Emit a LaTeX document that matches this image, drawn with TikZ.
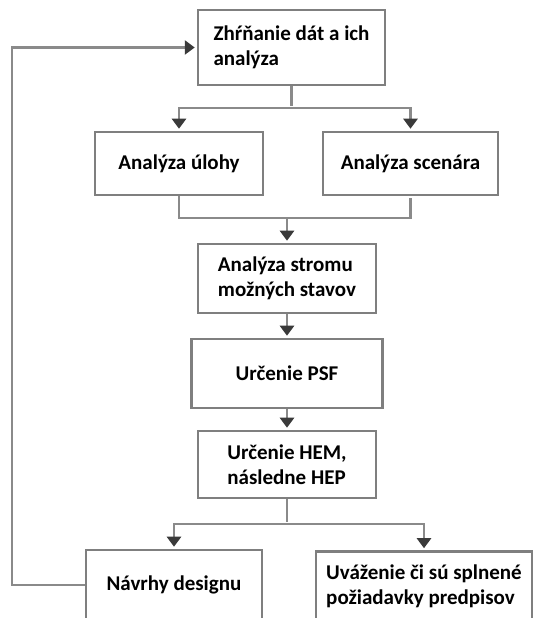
\documentclass[tikz,border=0pt]{standalone}
\usepackage{fontspec}
\setmainfont{Carlito}
\usetikzlibrary{positioning,arrows.meta,calc}
\definecolor{boxGray}{HTML}{7F7F7F}
\definecolor{lineGray}{HTML}{8A8A8A}
\definecolor{tipGray}{HTML}{3A3A3A}
\begin{document}
\begin{tikzpicture}[x=1pt, y=1pt,
                    every node/.style={on grid},
                    stage/.style={draw=boxGray, line width=2.5pt, rectangle, fill=white, inner sep=0pt,
                                  align=left, font=\bfseries\fontsize{21}{24.5}\selectfont},
                    link/.style={draw=lineGray, line width=2.5pt},
                    >={Triangle[width=14pt,length=10pt,color=tipGray]},
                    shorten >=2pt]
    \useasboundingbox (0,0) rectangle (534,618);
    \clip (0,0) rectangle (534,618);
    \node[stage, minimum width=187pt, minimum height=75pt] (zhr) at (291.5,570.5) {Zhŕňanie dát a ich\\analýza};
    \node[stage, minimum width=168pt, minimum height=63pt, below left=116pt and 112.5pt of zhr] (uloha) {Analýza úlohy};
    \node[stage, minimum width=175pt, minimum height=63pt, below right=116pt and 119pt of zhr] (scen) {Analýza scenára};
    \node[stage, minimum width=178pt, minimum height=69pt, below=231pt of zhr, xshift=-4.5pt] (strom) {Analýza stromu\\možných stavov};
    \node[stage, minimum width=191pt, minimum height=69pt, below=95pt of strom] (psf) {Určenie PSF};
    \node[stage, minimum width=178pt, minimum height=67pt, below=91pt of psf] (hem) {Určenie HEM,\\následne HEP};
    \node[stage, minimum width=176pt, minimum height=70pt, below left=120.5pt and 113pt of hem] (navrhy) {Návrhy designu};
    \node[stage, minimum width=216pt, minimum height=70pt, below right=122pt and 137pt of hem] (uvaz) {Uváženie či sú splnené\\požiadavky predpisov};

    \draw[link] (zhr.south) -- ++(0,-22) coordinate (splitA);
    \draw[link,->] (splitA) -| (uloha.north);
    \draw[link,->] (splitA) -| (scen.north);

    \draw[link] (uloha.south) -- ++(0,-22) coordinate (joinB) -| (scen.south);
    \draw[link,->] (joinB -| strom.north) -- (strom.north);
    \draw[link,->] (strom) -- (psf);
    \draw[link,->] (psf) -- (hem);

    \draw[link] (hem.south) -- ++(0,-25) coordinate (splitC);
    \draw[link,->] (splitC) -| (navrhy.north);
    \draw[link,->] (splitC) -| (uvaz.north);

    % spat na zaciatok
    \draw[link,->] (navrhy.west) -- ++(-73,0) |- (zhr.west);
\end{tikzpicture}
\end{document}
